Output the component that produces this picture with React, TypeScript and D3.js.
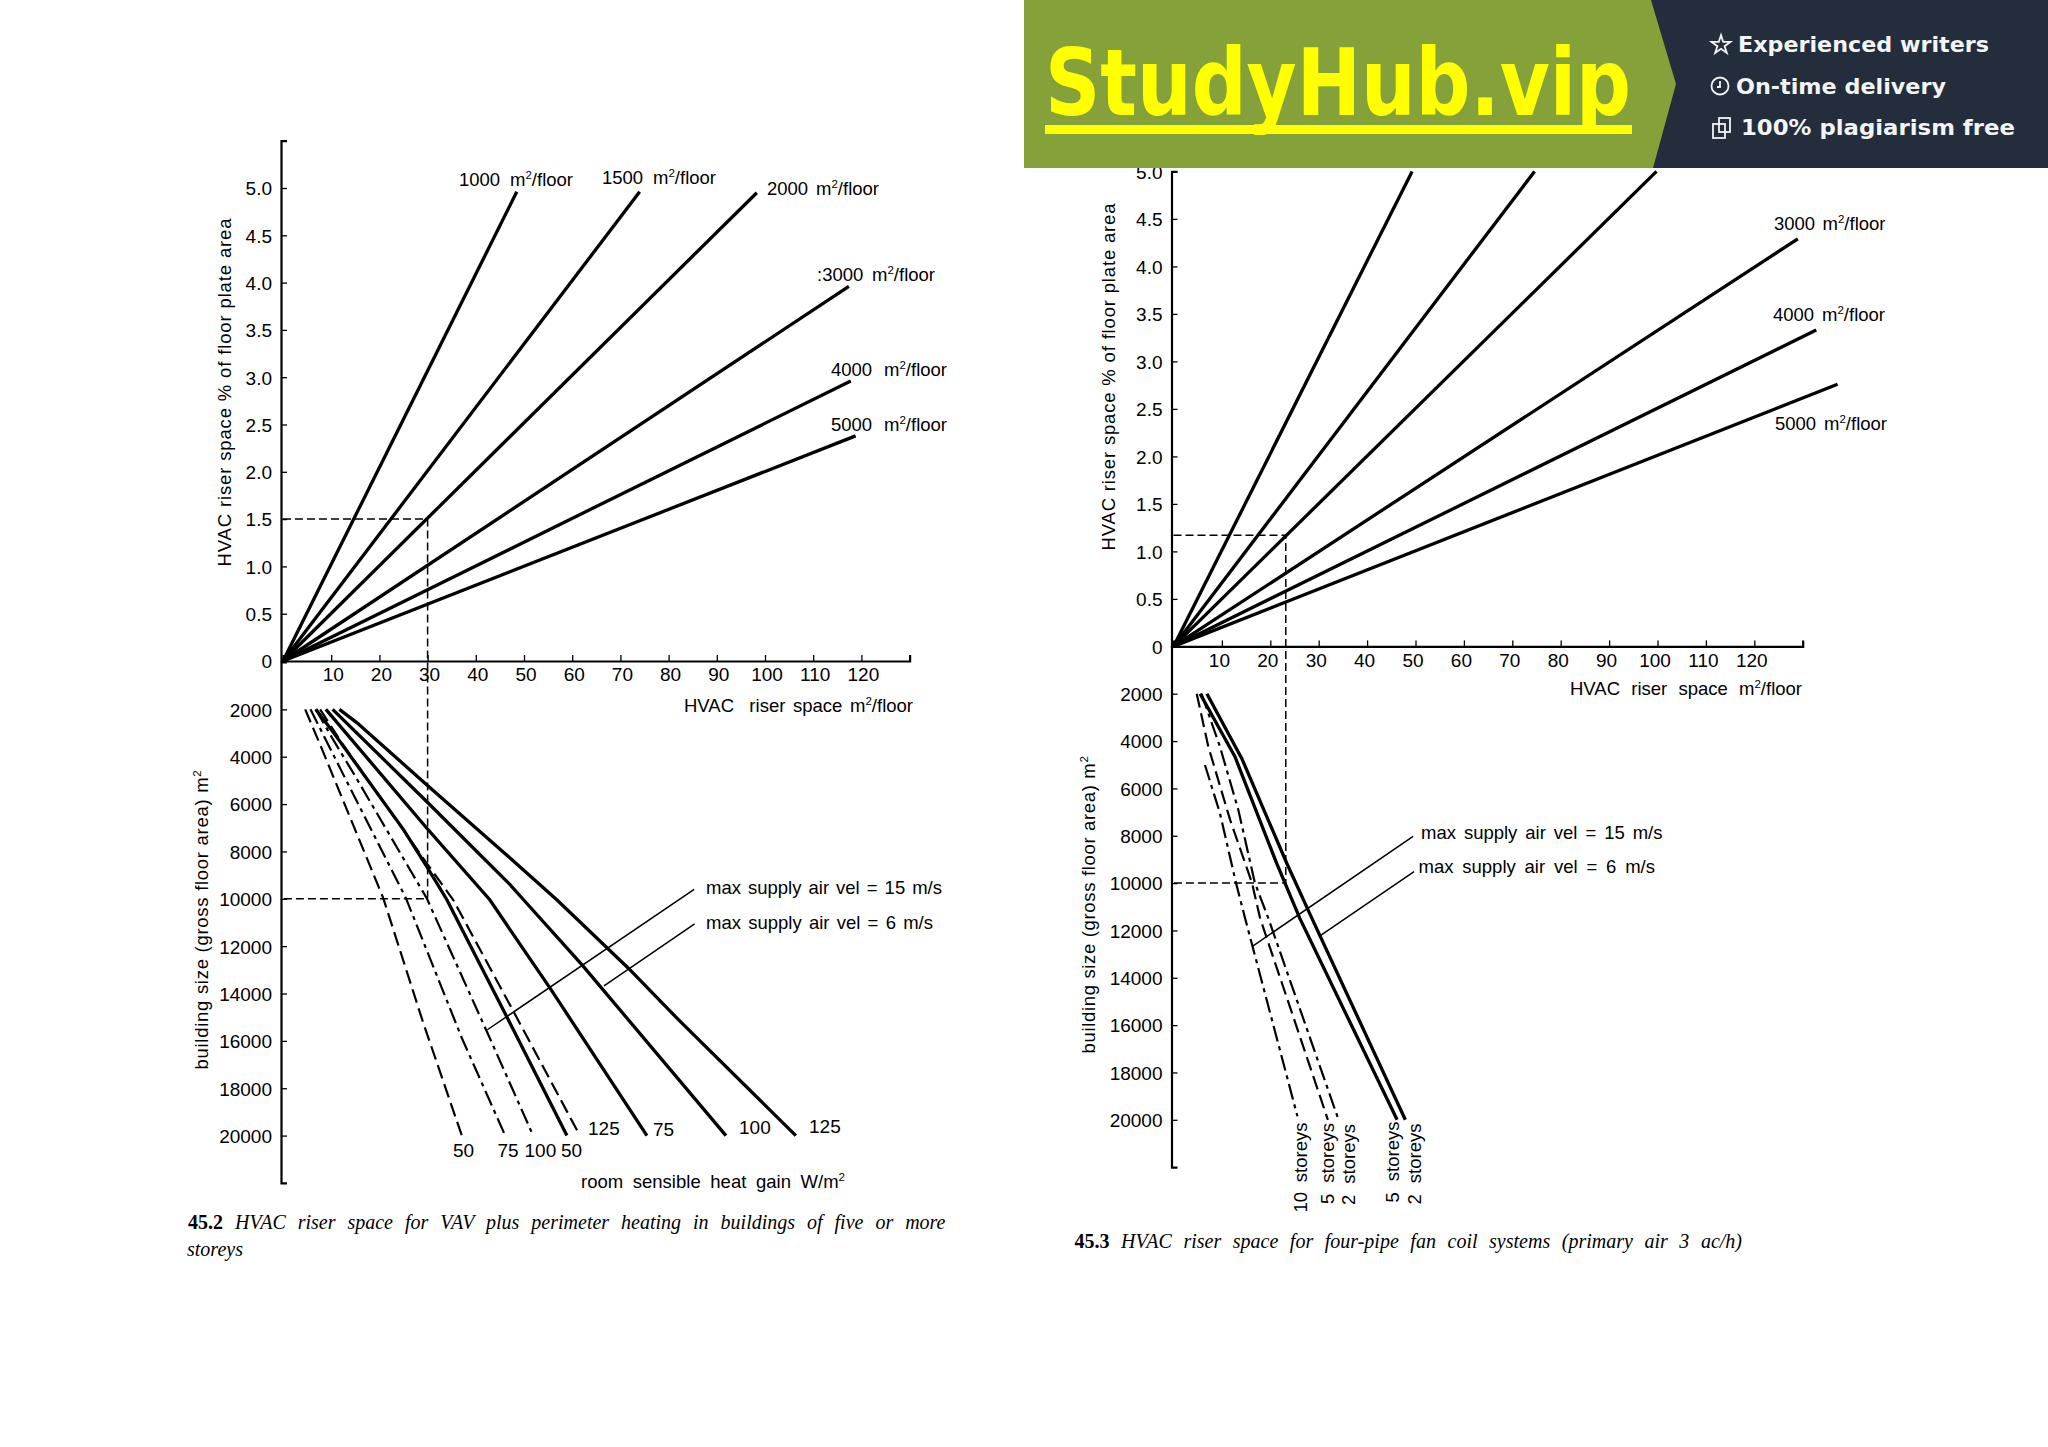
import { useRef, useEffect } from 'react';
import * as d3 from 'd3';

type Pt = [number, number];

const WIDTH = 2048;
const HEIGHT = 1447;

const SANS = '"Liberation Sans", Arial, sans-serif';
const SERIF = '"Liberation Serif", "Times New Roman", serif';
const BANNER_FONT = '"DejaVu Sans", sans-serif';

// ── Tick values ───────────────────────────────────────────────────────────────
const riserTicks = [10, 20, 30, 40, 50, 60, 70, 80, 90, 100, 110, 120];
const percentTicks = [0, 0.5, 1, 1.5, 2, 2.5, 3, 3.5, 4, 4.5, 5];
const sizeTicks = [2000, 4000, 6000, 8000, 10000, 12000, 14000, 16000, 18000, 20000];

// ── Fig 45.2: upper lines, end point of each (all start at the origin) ────────
const vavEnd1000: Pt = [48.5, 4.96];
const vavEnd1500: Pt = [74, 4.96];
const vavEnd2000: Pt = [98.3, 4.95];
const vavEnd3000: Pt = [117.4, 3.96];
const vavEnd4000: Pt = [117.8, 2.96];
const vavEnd5000: Pt = [118.8, 2.38];

// ── Fig 45.2: lower lines, [riser space, building size] ───────────────────────
const vavSolid125: Pt[] = [[11.7, 2000], [15.3, 2560], [29.8, 5180], [47.1, 8280], [56.8, 10040], [71.6, 12920], [82.4, 15180], [106.4, 20000]];
const vavSolid100: Pt[] = [[10.3, 2000], [29.8, 5890], [47.1, 9400], [49.9, 10040], [62, 12780], [91.9, 20000]];
const vavSolid75: Pt[] = [[8.9, 2000], [29.8, 7010], [42.9, 10040], [47.1, 11300], [55.4, 13770], [75.5, 20000]];
const vavSolid50: Pt[] = [[6.8, 2000], [10.3, 2930], [25, 7080], [29.8, 8630], [34, 10040], [46.4, 14970], [58.9, 20000]];
const vavDash125: Pt[] = [[7.7, 2000], [12.2, 3420], [29.8, 8490], [35.3, 10040], [47.8, 14750], [61.6, 20000]];
const vavDash100: Pt[] = [[6.8, 2000], [10.4, 3280], [14.6, 4690], [29.8, 9970], [42.9, 15880], [51.9, 20000]];
const vavDash75: Pt[] = [[5.7, 2000], [12.7, 4830], [25.5, 9970], [37.1, 15880], [46.1, 20000]];
const vavDash50: Pt[] = [[4.6, 2000], [7.7, 3490], [20.8, 9970], [29.1, 15240], [37.1, 20000]];
const vavLeader15: Pt[] = [[85.3, 9600], [42.4, 15530]];
const vavLeader6: Pt[] = [[85.4, 11060], [66.6, 13680]];
const vavExample = { riser: 30, percent: 1.5, size: 10000 };

// ── Fig 45.3: upper lines ─────────────────────────────────────────────────────
const fcuEnd1000: Pt = [49.3, 5];
const fcuEnd1500: Pt = [74.6, 5];
const fcuEnd2000: Pt = [99.8, 5];
const fcuEnd3000: Pt = [129, 4.29];
const fcuEnd4000: Pt = [132.8, 3.33];
const fcuEnd5000: Pt = [137.2, 2.76];

// ── Fig 45.3: lower lines ─────────────────────────────────────────────────────
const fcuSolid2: Pt[] = [[6.9, 2000], [14.1, 4730], [23.4, 9160], [28.6, 11490], [47.9, 20000]];
const fcuSolid5: Pt[] = [[5.5, 2000], [12.7, 4660], [21.3, 9160], [26.1, 11490], [46.2, 20000]];
const fcuDash2: Pt[] = [[5.8, 2000], [9.6, 4240], [13.4, 6910], [16.8, 9980], [19.6, 11490], [34.1, 20000]];
const fcuDash5: Pt[] = [[4.8, 2000], [7.2, 4240], [11.7, 7330], [16.2, 9980], [17.9, 11490], [31.9, 20000]];
const fcuDash10: Pt[] = [[6.5, 5010], [9.6, 7050], [12.9, 9980], [14.8, 11490], [25.6, 19850]];
const fcuLeader15: Pt[] = [[49.5, 8030], [16.3, 12670]];
const fcuLeader6: Pt[] = [[49.7, 9520], [30.1, 12250]];
const fcuExample = { riser: 23.2, percent: 1.17, size: 10000 };

const DASH_LONG = '16,5,4,5';
const DASH_PLAIN = '14,6';
const DASH_GUIDE = '8,4';

type G = d3.Selection<SVGGElement, unknown, null, undefined>;

interface LabelOpts {
  end?: number; // stretch the spaces so the text runs out to this length
  rotate?: boolean;
  size?: number;
  family?: string;
  spread?: 'word' | 'letter';
}

// Writes a label, raising the 2 of "m^2" as the source does
function label(g: G, str: string, x: number, y: number, opts: LabelOpts = {}) {
  const t = g
    .append('text')
    .attr('x', x)
    .attr('y', y)
    .attr('fill', '#000')
    .attr('font-family', opts.family ?? SANS)
    .attr('font-size', opts.size ?? 18.5)
    .style('white-space', 'pre');
  if (opts.rotate) t.attr('transform', `rotate(-90 ${x} ${y})`);

  const parts = str.split('^');
  parts.forEach((part, i) => {
    if (i === 0) {
      t.append('tspan').text(part);
      return;
    }
    t.append('tspan').attr('dy', -7).attr('font-size', 11.5).text(part[0]);
    if (part.length > 1) t.append('tspan').attr('dy', 7).text(part.slice(1));
  });
  if (opts.end !== undefined) fit(t, str, opts.end, opts.spread ?? 'word');
  return t;
}

function fit(t: d3.Selection<SVGTextElement, unknown, null, undefined>, str: string, target: number, spread: 'word' | 'letter') {
  const node = t.node();
  if (!node) return;
  const gaps = spread === 'word' ? str.split(' ').length - 1 : str.length - 1;
  if (gaps <= 0) return;
  const extra = (target - node.getComputedTextLength()) / gaps;
  t.attr(spread === 'word' ? 'word-spacing' : 'letter-spacing', extra.toFixed(3));
}

function caption(g: G, num: string, body: string, x: number, y: number, width?: number) {
  const t = g
    .append('text')
    .attr('x', x)
    .attr('y', y)
    .attr('fill', '#000')
    .attr('font-family', SERIF)
    .attr('font-size', 20);
  if (num) t.append('tspan').attr('font-weight', 'bold').text(num + ' ');
  t.append('tspan').attr('font-style', 'italic').text(body);
  if (width !== undefined) fit(t, num + ' ' + body, width, 'word');
}

interface Frame {
  x0: number;
  yZero: number;
  yZeroLower: number;
  pxPerRiser: number;
  pxPerPercent: number;
  percentMax: number;
  pxPer1000: number;
  tickDx: number;
}

// Both axes and the guide lines shared by the two figures
function drawFrame(svg: G, f: Frame, example: { riser: number; percent: number; size: number }) {
  const x = d3.scaleLinear().domain([0, 130]).range([f.x0, f.x0 + 130 * f.pxPerRiser]);
  const yUp = d3.scaleLinear().domain([0, f.percentMax]).range([f.yZero, f.yZero - f.percentMax * f.pxPerPercent]);
  const yDown = d3.scaleLinear().domain([0, 22000]).range([f.yZeroLower, f.yZeroLower + 22 * f.pxPer1000]);

  const styleAxis = (a: G) => {
    a.selectAll('path').attr('stroke', '#000').attr('stroke-width', 2.2);
    a.selectAll('line').attr('stroke', '#000').attr('stroke-width', 1.3);
    a.selectAll('text').attr('font-family', SANS).attr('font-size', 19).attr('fill', '#000');
  };

  const bottom = svg.append('g').attr('transform', `translate(0,${f.yZero})`);
  bottom.call(d3.axisBottom(x).tickValues(riserTicks).tickSizeInner(-6).tickSizeOuter(-6).tickPadding(7) as any);
  styleAxis(bottom);
  bottom.selectAll('text').attr('dx', f.tickDx);

  const left = svg.append('g').attr('transform', `translate(${f.x0 - 2},0)`);
  left.call(
    d3.axisLeft(yUp).tickValues(percentTicks).tickSizeInner(-6).tickSizeOuter(-6).tickPadding(9)
      .tickFormat((d) => (+d === 0 ? '0' : (+d).toFixed(1))) as any,
  );
  styleAxis(left);
  left.selectAll('text').attr('dy', '0.36em');

  const leftLower = svg.append('g').attr('transform', `translate(${f.x0 - 2},0)`);
  leftLower.call(
    d3.axisLeft(yDown).tickValues(sizeTicks).tickSizeInner(-6).tickSizeOuter(-6).tickPadding(9)
      .tickFormat((d) => String(d)) as any,
  );
  styleAxis(leftLower);
  leftLower.selectAll('text').attr('dy', '0.36em');

  // Worked example guide
  const guide = d3.path();
  guide.moveTo(x(0), yUp(example.percent));
  guide.lineTo(x(example.riser), yUp(example.percent));
  guide.lineTo(x(example.riser), yDown(example.size));
  guide.lineTo(x(0), yDown(example.size));
  svg.append('path')
    .attr('d', guide.toString())
    .attr('fill', 'none')
    .attr('stroke', '#000')
    .attr('stroke-width', 1.5)
    .attr('stroke-dasharray', DASH_GUIDE);

  const lineUp = d3.line<Pt>().x((d) => x(d[0])).y((d) => yUp(d[1]));
  const lineDown = d3.line<Pt>().x((d) => x(d[0])).y((d) => yDown(d[1]));
  const addLine = (pts: Pt[], gen: d3.Line<Pt>, width: number, dash?: string) =>
    svg.append('path')
      .attr('d', gen(pts))
      .attr('fill', 'none')
      .attr('stroke', '#000')
      .attr('stroke-width', width)
      .attr('stroke-dasharray', dash ?? null);

  return {
    ray: (end: Pt) => addLine([[0, 0], end], lineUp, 3.3),
    solid: (pts: Pt[]) => addLine(pts, lineDown, 3.3),
    dashed: (pts: Pt[], dash: string) => addLine(pts, lineDown, 2.2, dash),
    leader: (pts: Pt[]) => addLine(pts, lineDown, 1.5),
  };
}

function drawVav(svg: G) {
  const d = drawFrame(
    svg,
    { x0: 283, yZero: 661, yZeroLower: 662, pxPerRiser: 4.82, pxPerPercent: 94.6, percentMax: 5.5, pxPer1000: 23.68, tickDx: 1.5 },
    vavExample,
  );
  [vavEnd1000, vavEnd1500, vavEnd2000, vavEnd3000, vavEnd4000, vavEnd5000].forEach((e) => d.ray(e));
  [vavSolid125, vavSolid100, vavSolid75, vavSolid50].forEach((s) => d.solid(s));
  d.dashed(vavDash125, DASH_PLAIN);
  d.dashed(vavDash100, DASH_LONG);
  d.dashed(vavDash75, DASH_LONG);
  d.dashed(vavDash50, DASH_PLAIN);
  d.leader(vavLeader15);
  d.leader(vavLeader6);

  label(svg, '1000 m^2/floor', 459, 186, { end: 114 });
  label(svg, '1500 m^2/floor', 602, 184, { end: 114 });
  label(svg, '2000 m^2/floor', 767, 194.5, { end: 112 });
  label(svg, ':3000 m^2/floor', 817, 281, { end: 118 });
  label(svg, '4000 m^2/floor', 831, 375.5, { end: 116 });
  label(svg, '5000 m^2/floor', 831, 430.5, { end: 116 });
  label(svg, 'HVAC  riser space m^2/floor', 684, 712, { end: 229 });
  label(svg, 'HVAC riser space % of floor plate area', 231, 566.5, { rotate: true, end: 348, spread: 'letter' });
  label(svg, 'building size (gross floor area) m^2', 208, 1069.5, { rotate: true, end: 300, spread: 'letter' });
  label(svg, 'max supply air vel = 15 m/s', 706, 893.5, { end: 236 });
  label(svg, 'max supply air vel = 6 m/s', 706, 928.5, { end: 227 });
  label(svg, '125', 588, 1134.5, { size: 19 });
  label(svg, '75', 653, 1136, { size: 19 });
  label(svg, '100', 739, 1134, { size: 19 });
  label(svg, '125', 809, 1132.5, { size: 19 });
  label(svg, '50', 453, 1156.5, { size: 19 });
  label(svg, '75', 497.5, 1156.5, { size: 19 });
  label(svg, '100', 524.5, 1156.5, { size: 19 });
  label(svg, '50', 561, 1156.5, { size: 19 });
  label(svg, 'room sensible heat gain W/m^2', 581, 1187.5, { end: 264 });
  caption(svg, '45.2', 'HVAC riser space for VAV plus perimeter heating in buildings of five or more', 188, 1229, 757.5);
  caption(svg, '', 'storeys', 187, 1255.5);
}

function drawFcu(svg: G) {
  const d = drawFrame(
    svg,
    { x0: 1173.5, yZero: 646.4, yZeroLower: 646.4, pxPerRiser: 4.84, pxPerPercent: 95, percentMax: 5, pxPer1000: 23.67, tickDx: -3 },
    fcuExample,
  );
  [fcuEnd1000, fcuEnd1500, fcuEnd2000, fcuEnd3000, fcuEnd4000, fcuEnd5000].forEach((e) => d.ray(e));
  [fcuSolid2, fcuSolid5].forEach((s) => d.solid(s));
  d.dashed(fcuDash2, DASH_LONG);
  d.dashed(fcuDash5, DASH_PLAIN);
  d.dashed(fcuDash10, DASH_LONG);
  d.leader(fcuLeader15);
  d.leader(fcuLeader6);

  label(svg, '3000 m^2/floor', 1774, 229.5, { end: 111.5 });
  label(svg, '4000 m^2/floor', 1773, 320.5, { end: 112 });
  label(svg, '5000 m^2/floor', 1775, 429.5, { end: 112 });
  label(svg, 'HVAC riser space m^2/floor', 1570, 694.5, { end: 232 });
  label(svg, 'HVAC riser space % of floor plate area', 1115, 550.5, { rotate: true, end: 347, spread: 'letter' });
  label(svg, 'building size (gross floor area) m^2', 1095, 1053.5, { rotate: true, end: 298, spread: 'letter' });
  label(svg, 'max supply air vel = 15 m/s', 1421, 838.5, { end: 241.5 });
  label(svg, 'max supply air vel = 6 m/s', 1418.5, 873, { end: 236.5 });
  label(svg, '10 storeys', 1307, 1212.5, { rotate: true, end: 90 });
  label(svg, '5 storeys', 1334, 1204, { rotate: true, end: 81 });
  label(svg, '2 storeys', 1355, 1205, { rotate: true, end: 81 });
  label(svg, '5 storeys', 1399, 1202.5, { rotate: true, end: 81 });
  label(svg, '2 storeys', 1421, 1204.5, { rotate: true, end: 81 });
  caption(svg, '45.3', 'HVAC riser space for four-pipe fan coil systems (primary air 3 ac/h)', 1074.5, 1248, 667.5);
}

function drawBanner(svg: G) {
  const b = svg.append('g');
  b.append('rect').attr('x', 1024).attr('y', 0).attr('width', 1024).attr('height', 168).attr('fill', '#84A13A');
  b.append('polygon').attr('points', '1651,0 2048,0 2048,168 1653,168 1676,84').attr('fill', '#232D3B');

  b.append('text')
    .attr('x', 1045)
    .attr('y', 115)
    .attr('font-family', BANNER_FONT)
    .attr('font-weight', 'bold')
    .attr('font-size', 92)
    .attr('fill', '#FFFF00')
    .attr('textLength', 586)
    .attr('lengthAdjust', 'spacingAndGlyphs')
    .text('StudyHub.vip');
  b.append('rect').attr('x', 1045).attr('y', 125).attr('width', 587).attr('height', 9).attr('fill', '#FFFF00');

  const lines: [string, number, number, number][] = [
    ['Experienced writers', 1738, 52, 251],
    ['On-time delivery', 1736, 94, 210],
    ['100% plagiarism free', 1741, 135, 274],
  ];
  lines.forEach(([str, x, y, w]) =>
    b.append('text')
      .attr('x', x)
      .attr('y', y)
      .attr('font-family', BANNER_FONT)
      .attr('font-weight', 'bold')
      .attr('font-size', 21)
      .attr('fill', '#F2F4F5')
      .attr('textLength', w)
      .attr('lengthAdjust', 'spacingAndGlyphs')
      .text(str),
  );

  // Small outline icons in front of each line
  const icon = b.append('g').attr('fill', 'none').attr('stroke', '#F2F4F5').attr('stroke-width', 1.8);
  icon.append('path')
    .attr('d', d3.symbol(d3.symbolStar, 110)())
    .attr('transform', 'translate(1721,45)');
  icon.append('circle').attr('cx', 1720).attr('cy', 86).attr('r', 8.5);
  icon.append('path').attr('d', 'M1720,81V87H1717');
  icon.append('rect').attr('x', 1713).attr('y', 124).attr('width', 12).attr('height', 14);
  icon.append('rect').attr('x', 1719).attr('y', 118).attr('width', 11).attr('height', 14);
}

export default function App() {
  const svgRef = useRef<SVGSVGElement>(null);

  useEffect(() => {
    if (!svgRef.current) return;
    const root = d3.select(svgRef.current);
    root.selectAll('*').remove();
    const svg = root.append('g') as unknown as G;

    drawVav(svg);
    drawFcu(svg);
    drawBanner(svg); // sits over the top of fig 45.3
  }, []);

  return (
    <svg
      ref={svgRef}
      width={WIDTH}
      height={HEIGHT}
      viewBox={`0 0 ${WIDTH} ${HEIGHT}`}
      style={{ position: 'absolute', left: 0, top: 0, background: '#fff' }}
    />
  );
}
